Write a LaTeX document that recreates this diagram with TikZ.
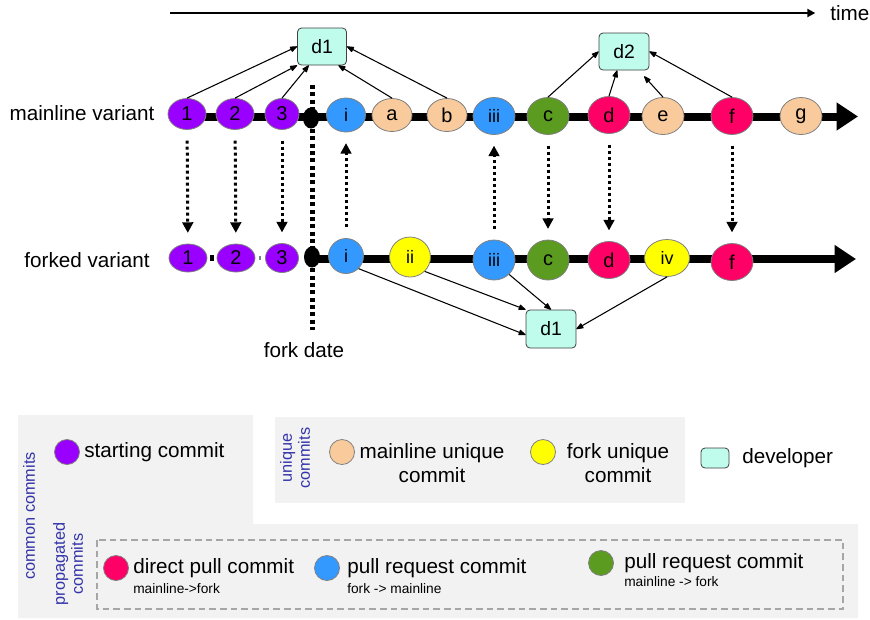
\documentclass[tikz,border=0pt]{standalone}
\usepackage{fontspec}
\setmainfont{Liberation Sans}
\usepackage{xcolor}
\usepackage{tikz}
\usetikzlibrary{positioning}
\usetikzlibrary{arrows.meta}
\usetikzlibrary{shapes}

\definecolor{startPurple}{HTML}{9900FF}
\definecolor{mainOrange}{HTML}{F9CB9C}
\definecolor{forkYellow}{HTML}{FFFF00}
\definecolor{prBlue}{HTML}{3399FF}
\definecolor{prGreen}{HTML}{5B9B1F}
\definecolor{pullRed}{HTML}{FF0066}
\definecolor{devAqua}{HTML}{C0FCEC}
\definecolor{legendGray}{HTML}{F2F2F2}
\definecolor{legendBlue}{HTML}{3333AA}

\begin{document}
\begin{tikzpicture}[
                    >={Stealth[inset=0pt,length=6pt, angle'=40,round]},
        commit/.style = { ellipse, draw = gray, line width = 0.6pt, minimum width = 4.2*\oneUnit, minimum height = 3.7*\oneUnit, inner sep = 0pt, font = \fontsize{15}{17}\selectfont, text = black },
        startCommit/.style = { commit, fill = startPurple, minimum width = 3.8*\oneUnit, minimum height = 3.1*\oneUnit },
        mainCommit/.style = { commit, fill = mainOrange },
        forkCommit/.style = { commit, fill = forkYellow, font = \fontsize{13.5}{15}\selectfont },
        blueCommit/.style = { commit, fill = prBlue, font = \fontsize{13.5}{15}\selectfont },
        greenCommit/.style = { commit, fill = prGreen },
        redCommit/.style = { commit, fill = pullRed },
        forkPoint/.style = { ellipse, fill = black, minimum width = 1.6*\oneUnit, minimum height = 2.1*\oneUnit, inner sep = 0pt },
        devBox/.style = { rectangle, rounded corners = 3pt, draw = black!75, line width = 0.6pt, fill = devAqua, minimum width = 4.9*\oneUnit, minimum height = 3.7*\oneUnit, inner sep = 0pt, font = \fontsize{14.5}{16}\selectfont },
        word/.style = { font = \fontsize{15.5}{18}\selectfont, inner sep = 0pt, text = black },
        tinyWord/.style = { font = \fontsize{10.3}{12}\selectfont, inner sep = 0pt, text = black },
        groupWord/.style = { font = \fontsize{12.2}{13.5}\selectfont, inner sep = 0pt, text = legendBlue, rotate = 90, align = center },
        keyDot/.style = { circle, draw = gray, line width = 0.6pt, minimum size = 2.5*\oneUnit, inner sep = 0pt },
        track/.style = { line width = 6pt, -{Triangle[length=16pt, width=20pt]} },
        syncArrow/.style = { line width = 2.25pt, dash pattern = on 2.25pt off 2.25pt, -{Triangle[length=8pt, width=8pt]}, shorten <= 8pt, shorten >= 8pt },
        link/.style = { ->, line width = 0.8pt },
                    ]
        \def\oneUnit{7.5pt}

        \useasboundingbox (0*\oneUnit, 0*\oneUnit) rectangle (87*\oneUnit, -61.9*\oneUnit);

        \fill[legendGray] (1.8*\oneUnit, -41.5*\oneUnit) -- (25.3*\oneUnit, -41.5*\oneUnit) -- (25.3*\oneUnit, -52.4*\oneUnit) -- (85.8*\oneUnit, -52.4*\oneUnit) -- (85.8*\oneUnit, -61.8*\oneUnit) -- (1.8*\oneUnit, -61.8*\oneUnit) -- cycle;
        \fill[legendGray] (27.5*\oneUnit, -41.7*\oneUnit) rectangle (68.5*\oneUnit, -50.3*\oneUnit);
        \draw[gray!70, line width = 1.5pt, dash pattern = on 5pt off 3pt] (9.7*\oneUnit, -54.0*\oneUnit) rectangle (84.3*\oneUnit, -60.9*\oneUnit);

        \coordinate (TIMEstart) at (17.0*\oneUnit, -1.3*\oneUnit);
        \node[word, anchor = west] (TIME) at (83.0*\oneUnit, -1.3*\oneUnit) {time};
        \draw[line width = 1.5pt, -{Triangle[length=6pt, width=6pt]}, shorten >= 11pt] (TIMEstart) -- (TIME.west);

        \coordinate (MAINstart) at (18.7*\oneUnit, -11.65*\oneUnit);
        \coordinate (MAINend) at (85.8*\oneUnit, -11.65*\oneUnit);
        \coordinate (FORKstart) at (31.2*\oneUnit, -25.9*\oneUnit);
        \coordinate (FORKend) at (85.6*\oneUnit, -25.9*\oneUnit);
        \coordinate (DATEtop) at (31.2*\oneUnit, -8.5*\oneUnit);
        \coordinate (DATEbottom) at (31.2*\oneUnit, -33.0*\oneUnit);

        \draw[track] (MAINstart) -- (MAINend);
        \draw[track] (FORKstart) -- (FORKend);
        \draw[line width = 3.75pt, dash pattern = on 3pt off 2.5pt] (DATEtop) -- (DATEbottom);
        \node[word, anchor = north] (DATE) at (30.4*\oneUnit, -34.2*\oneUnit) {fork date};

        \node[word] (MAINlabel) at (8.2*\oneUnit, -11.3*\oneUnit) {mainline variant};
        \node[word] (FORKlabel) at (8.7*\oneUnit, -26.0*\oneUnit) {forked variant};

        \node[startCommit] (ONEmain) at (18.7*\oneUnit, -11.4*\oneUnit) {1};
        \node[startCommit] (TWOmain) at (23.5*\oneUnit, -11.4*\oneUnit) {2};
        \node[startCommit, minimum width = 3.4*\oneUnit] (THREEmain) at (28.2*\oneUnit, -11.4*\oneUnit) {3};
        \node[forkPoint] (FORKmain) at (31.1*\oneUnit, -11.8*\oneUnit) {};
        \node[blueCommit, minimum width = 3.9*\oneUnit, minimum height = 3.4*\oneUnit] (Imain) at (34.6*\oneUnit, -11.5*\oneUnit) {i};
        \node[mainCommit, minimum width = 4.0*\oneUnit, minimum height = 3.3*\oneUnit] (Amain) at (39.2*\oneUnit, -11.5*\oneUnit) {a};
        \node[mainCommit, minimum width = 4.0*\oneUnit, minimum height = 3.3*\oneUnit] (Bmain) at (44.7*\oneUnit, -11.5*\oneUnit) {b};
        \node[blueCommit] (IIImain) at (49.4*\oneUnit, -11.6*\oneUnit) {iii};
        \node[greenCommit] (Cmain) at (54.8*\oneUnit, -11.6*\oneUnit) {c};
        \node[redCommit] (Dmain) at (60.9*\oneUnit, -11.5*\oneUnit) {d};
        \node[mainCommit] (Emain) at (66.3*\oneUnit, -11.6*\oneUnit) {e};
        \node[redCommit] (Fmain) at (73.2*\oneUnit, -11.6*\oneUnit) {f};
        \node[mainCommit] (Gmain) at (80.1*\oneUnit, -11.6*\oneUnit) {g};

        \node[startCommit, minimum height = 2.8*\oneUnit] (ONEfork) at (18.8*\oneUnit, -25.8*\oneUnit) {1};
        \node[startCommit, minimum height = 2.8*\oneUnit] (TWOfork) at (23.6*\oneUnit, -25.8*\oneUnit) {2};
        \node[startCommit, minimum width = 3.3*\oneUnit, minimum height = 2.9*\oneUnit] (THREEfork) at (28.2*\oneUnit, -25.8*\oneUnit) {3};
        \node[forkPoint] (FORKfork) at (31.2*\oneUnit, -25.7*\oneUnit) {};
        \node[blueCommit, minimum width = 3.5*\oneUnit, minimum height = 3.5*\oneUnit] (Ifork) at (34.6*\oneUnit, -25.6*\oneUnit) {i};
        \node[forkCommit, minimum width = 4.1*\oneUnit, minimum height = 4.0*\oneUnit] (IIfork) at (41.0*\oneUnit, -25.7*\oneUnit) {ii};
        \node[blueCommit, minimum height = 4.0*\oneUnit] (IIIfork) at (49.4*\oneUnit, -26.0*\oneUnit) {iii};
        \node[greenCommit, minimum height = 4.0*\oneUnit] (Cfork) at (54.8*\oneUnit, -26.0*\oneUnit) {c};
        \node[redCommit] (Dfork) at (60.9*\oneUnit, -26.0*\oneUnit) {d};
        \node[forkCommit, minimum width = 4.5*\oneUnit] (IVfork) at (66.7*\oneUnit, -25.8*\oneUnit) {iv};
        \node[redCommit] (Ffork) at (73.2*\oneUnit, -26.2*\oneUnit) {f};

        \draw[line width = 4.5pt, shorten <= 2.25pt, shorten >= 2.25pt] (ONEfork) -- (TWOfork);
        \draw[gray, line width = 3pt, shorten <= 3pt, shorten >= 3pt] (TWOfork) -- (THREEfork);

        \node[devBox] (DEVone) at (32.2*\oneUnit, -4.65*\oneUnit) {d1};
        \node[devBox, minimum width = 5.0*\oneUnit] (DEVtwo) at (62.4*\oneUnit, -5.15*\oneUnit) {d2};
        \node[devBox, minimum width = 5.0*\oneUnit, minimum height = 3.8*\oneUnit] (DEVthree) at (55.1*\oneUnit, -32.9*\oneUnit) {d1};

        \draw[link] (ONEmain.north) -- (DEVone.west);
        \draw[link] (TWOmain.north) -- (DEVone.south west);
        \draw[link] (THREEmain.north) -- (DEVone.235);
        \draw[link] (Amain.north) -- (DEVone.311);
        \draw[link] (Bmain.north) -- (DEVone.east);

        \draw[link] (Cmain.north) -- (DEVtwo.west);
        \draw[link] (Dmain.north) -- (DEVtwo.250);
        \draw[link, shorten >= 6pt] (Emain.north) -- (DEVtwo.308);
        \draw[link] (Fmain.north) -- (DEVtwo.east);

        \draw[link] (Ifork.south east) -- (DEVthree.193);
        \draw[link] (IIfork.south east) -- (DEVthree.north west);
        \draw[link] (IIIfork.south east) -- (DEVthree.north);
        \draw[link] (IVfork.south) -- (DEVthree.east);

        \draw[syncArrow] (ONEmain) -- (ONEfork);
        \draw[syncArrow] (TWOmain) -- (TWOfork);
        \draw[syncArrow] (THREEmain) -- (THREEfork);
        \draw[syncArrow] (Ifork) -- (Imain);
        \draw[syncArrow] (IIIfork) -- (IIImain);
        \draw[syncArrow] (Cmain) -- (Cfork);
        \draw[syncArrow] (Dmain) -- (Dfork);
        \draw[syncArrow] (Fmain) -- (Ffork);

        \node[groupWord] (COMMONgroup) at (2.9*\oneUnit, -51.6*\oneUnit) {common commits};
        \node[groupWord] (PROPAGATEDgroup) at (6.8*\oneUnit, -56.4*\oneUnit) {propagated\\commits};
        \node[groupWord] (UNIQUEgroup) at (29.5*\oneUnit, -45.8*\oneUnit) {unique\\commits};

        \node[keyDot, fill = startPurple] (STARTkey) at (6.7*\oneUnit, -45.2*\oneUnit) {};
        \node[word, anchor = west] (STARTtext) at (8.4*\oneUnit, -45.2*\oneUnit) {starting commit};

        \node[keyDot, fill = mainOrange] (ORANGEkey) at (34.2*\oneUnit, -45.2*\oneUnit) {};
        \node[word, align = center] (ORANGEtext) at (43.2*\oneUnit, -46.3*\oneUnit) {mainline unique\\commit};

        \node[keyDot, fill = forkYellow] (YELLOWkey) at (54.3*\oneUnit, -45.2*\oneUnit) {};
        \node[word, align = center] (YELLOWtext) at (61.8*\oneUnit, -46.3*\oneUnit) {fork unique\\commit};

        \node[devBox, minimum width = 2.8*\oneUnit, minimum height = 2.0*\oneUnit] (DEVkey) at (71.5*\oneUnit, -45.8*\oneUnit) {};
        \node[word, anchor = west] (DEVtext) at (74.2*\oneUnit, -45.8*\oneUnit) {developer};

        \node[keyDot, fill = pullRed] (REDkey) at (11.6*\oneUnit, -56.8*\oneUnit) {};
        \node[word, anchor = west] (REDtext) at (13.3*\oneUnit, -56.8*\oneUnit) {direct pull commit};
        \node[tinyWord, anchor = west] (REDsub) at (13.3*\oneUnit, -58.9*\oneUnit) {mainline->fork};

        \node[keyDot, fill = prBlue] (BLUEkey) at (32.7*\oneUnit, -56.8*\oneUnit) {};
        \node[word, anchor = west] (BLUEtext) at (34.7*\oneUnit, -56.8*\oneUnit) {pull request commit};
        \node[tinyWord, anchor = west] (BLUEsub) at (34.7*\oneUnit, -58.9*\oneUnit) {fork -> mainline};

        \node[keyDot, fill = prGreen] (GREENkey) at (60.1*\oneUnit, -56.3*\oneUnit) {};
        \node[word, anchor = west] (GREENtext) at (62.4*\oneUnit, -56.3*\oneUnit) {pull request commit};
        \node[tinyWord, anchor = west] (GREENsub) at (62.4*\oneUnit, -58.2*\oneUnit) {mainline -> fork};
\end{tikzpicture}
\end{document}
